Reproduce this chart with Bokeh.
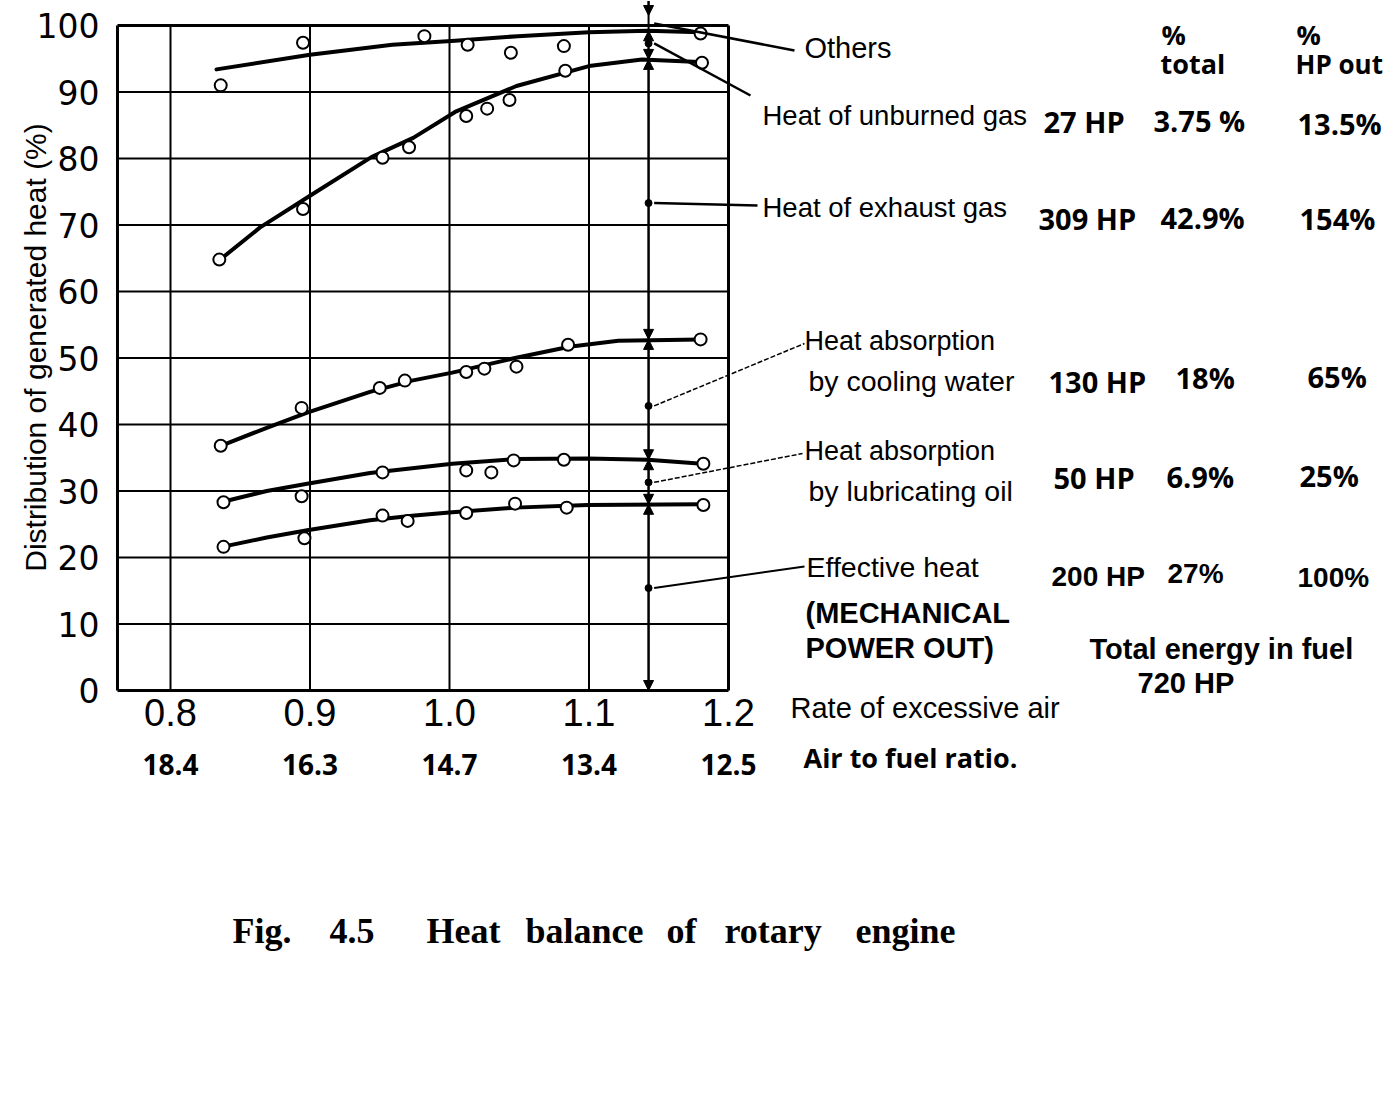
from math import pi
from bokeh.plotting import figure
from bokeh.models import Range1d, FixedTicker, PrintfTickFormatter, Label, Arrow, NormalHead
from bokeh.embed import file_html
from bokeh.resources import INLINE

# ---------------- data ----------------
x_ticks = [0.8, 0.9, 1.0, 1.1, 1.2]
afr_labels = ["18.4", "16.3", "14.7", "13.4", "12.5"]
y_ticks = [0, 10, 20, 30, 40, 50, 60, 70, 80, 90, 100]
x_box_left = 0.762

# measured points (open circles)
others_x = [0.836, 0.895, 0.982, 1.013, 1.044, 1.082, 1.180]
others_y = [91.0, 97.4, 98.4, 97.1, 95.9, 96.9, 98.8]
unburned_x = [0.835, 0.895, 0.952, 0.971, 1.012, 1.027, 1.043, 1.083, 1.181]
unburned_y = [64.8, 72.4, 80.1, 81.7, 86.4, 87.5, 88.8, 93.2, 94.4]
cooling_x = [0.836, 0.894, 0.950, 0.968, 1.012, 1.025, 1.048, 1.085, 1.180]
cooling_y = [36.8, 42.5, 45.5, 46.6, 47.9, 48.4, 48.7, 52.0, 52.8]
lub_x = [0.838, 0.894, 0.952, 1.012, 1.030, 1.046, 1.082, 1.182]
lub_y = [28.3, 29.2, 32.8, 33.1, 32.8, 34.6, 34.7, 34.1]
eff_x = [0.838, 0.896, 0.952, 0.970, 1.012, 1.047, 1.084, 1.182]
eff_y = [21.6, 22.9, 26.3, 25.5, 26.7, 28.1, 27.5, 27.9]

# fitted curves
others_cx = [0.833, 0.900, 0.959, 1.004, 1.049, 1.100, 1.142, 1.180]
others_cy = [93.4, 95.6, 97.1, 97.7, 98.4, 99.0, 99.2, 99.0]
unburned_cx = [0.835, 0.864, 0.900, 0.944, 0.974, 1.004, 1.048, 1.100, 1.138, 1.179]
unburned_cy = [64.7, 69.6, 74.4, 80.2, 83.1, 87.0, 90.9, 93.9, 94.9, 94.5]
cooling_cx = [0.836, 0.869, 0.898, 0.943, 0.973, 1.002, 1.047, 1.086, 1.121, 1.180]
cooling_cy = [36.8, 39.5, 41.8, 44.9, 46.6, 47.8, 50.0, 51.7, 52.6, 52.8]
lub_cx = [0.836, 0.869, 0.898, 0.943, 1.002, 1.047, 1.099, 1.142, 1.181]
lub_cy = [28.3, 30.0, 31.1, 32.7, 34.1, 34.8, 34.9, 34.7, 34.1]
eff_cx = [0.837, 0.869, 0.898, 0.943, 0.975, 1.002, 1.047, 1.099, 1.181]
eff_cy = [21.6, 23.0, 24.1, 25.6, 26.3, 26.8, 27.5, 27.9, 28.0]

# heat-balance measurement at one air rate
meas_x = 1.1427
section_bounds = [0.0, 28.0, 34.7, 52.8, 94.9, 99.2]
section_dots = [15.4, 31.3, 42.8, 73.3, 97.3]
others_dot = 100.3
line_top = 103.7

# ---------------- layout helpers (reference pixel -> data) ----------------
PX_PER_X = 1395.0      # pixels per unit of x
PX_PER_Y = 6.65        # pixels per unit of y
PX_X08, PX_Y0 = 170, 690
W, H = 1384, 1084


def dx(px):
    return 0.8 + (px - PX_X08) / PX_PER_X


def dy(py):
    return (PX_Y0 - py) / PX_PER_Y


p = figure(width=W, height=H, x_range=Range1d(dx(0), dx(W)), y_range=Range1d(dy(H), dy(0)),
           output_backend="svg", toolbar_location=None,
           min_border_left=0, min_border_top=0, min_border_right=0, min_border_bottom=0)
p.background_fill_color = "white"
p.border_fill_color = "white"
p.outline_line_color = None
p.grid.visible = False

# axes fixed at the chart box edges
p.xaxis.fixed_location = 0
p.yaxis.fixed_location = x_box_left
p.xaxis.ticker = FixedTicker(ticks=x_ticks)
p.xaxis.formatter = PrintfTickFormatter(format="%.1f")
p.yaxis.ticker = FixedTicker(ticks=y_ticks)
for ax in (p.xaxis, p.yaxis):
    ax.axis_line_color = None
    ax.major_tick_line_color = None
    ax.minor_tick_line_color = None
    ax.major_label_text_color = "black"
p.xaxis.major_label_text_font = "Liberation Sans"
p.xaxis.major_label_text_font_size = "38px"
p.xaxis.major_label_standoff = 2
p.yaxis.major_label_text_font = "DejaVu Sans"
p.yaxis.major_label_text_font_size = "33px"
p.yaxis.major_label_standoff = 12

# chart box and grid
v_x = [x_box_left] + x_ticks
v_w = [3, 2, 2, 2, 2, 3]
p.segment(x0=v_x, y0=[0] * len(v_x), x1=v_x, y1=[100] * len(v_x),
          line_color="black", line_width=v_w)
h_w = [3 if (t == 0 or t == 100) else 2 for t in y_ticks]
p.segment(x0=[x_box_left] * len(y_ticks), y0=y_ticks, x1=[x_ticks[-1]] * len(y_ticks), y1=y_ticks,
          line_color="black", line_width=h_w)

# curves
for cx, cy in [(others_cx, others_cy), (unburned_cx, unburned_cy), (cooling_cx, cooling_cy),
               (lub_cx, lub_cy), (eff_cx, eff_cy)]:
    p.line(cx, cy, line_color="black", line_width=4, line_join="round", line_cap="round")

# measurement vertical line with dimension arrows
p.segment(x0=[meas_x], y0=[0], x1=[meas_x], y1=[line_top], line_color="black", line_width=2)
p.add_layout(Arrow(start=None, end=NormalHead(size=10, fill_color="black", line_color="black"),
                   x_start=meas_x, y_start=line_top, x_end=meas_x, y_end=others_dot + 1.2,
                   line_width=2, line_color="black"))
for i, d in enumerate(section_dots):
    lo, hi = section_bounds[i], section_bounds[i + 1]
    for tgt in (lo, hi):
        p.add_layout(Arrow(start=None,
                           end=NormalHead(size=10, fill_color="black", line_color="black", line_width=1),
                           x_start=meas_x, y_start=d, x_end=meas_x, y_end=tgt,
                           line_width=2, line_color="black"))
p.scatter([meas_x] * len(section_dots), section_dots, size=7, color="black")

# measured points
for xs, ys in [(others_x, others_y), (unburned_x, unburned_y), (cooling_x, cooling_y),
               (lub_x, lub_y), (eff_x, eff_y)]:
    p.scatter(xs, ys, marker="circle", size=12, fill_color="white",
              line_color="black", line_width=2)

# leader lines: (start y on the measurement line, end position in px, dash, width)
leaders = [
    (others_dot, 794, 50, None, 2.5),
    (section_dots[4], 750, 95, None, 2.5),
    (section_dots[3], 757, 205, None, 2.5),
    (section_dots[2], 804, 343, "5 2", 1.5),
    (section_dots[1], 802, 453, "5 2", 1.5),
    (section_dots[0], 804, 566, None, 2),
]
for y0, ex, ey, dash, lw in leaders:
    kw = dict(line_dash=dash) if dash else {}
    p.segment(x0=[meas_x + 0.004], y0=[y0], x1=[dx(ex)], y1=[dy(ey)],
              line_width=lw, line_color="black", **kw)

LS = "Liberation Sans"
OS = "Open Sans"


def lab(text, px, py, font=LS, size="28px", style="normal", align="left",
        baseline="middle", angle=0.0):
    p.add_layout(Label(x=dx(px), y=dy(py), text=text, text_font=font, text_font_size=size,
                       text_font_style=style, text_align=align, text_baseline=baseline,
                       text_color="black", angle=angle))


# series labels (y = vertical centre of the capitals, reference pixels)
lab("Others", 804, 47, size="29px")
lab("Heat of unburned gas", 762, 115, size="27.5px")
lab("Heat of exhaust gas", 762, 207, size="27.5px")
lab("Heat absorption", 804, 340, size="27px")
lab("by cooling water", 808, 380, size="28.5px")
lab("Heat absorption", 804, 450, size="27px")
lab("by lubricating oil", 808, 490, size="28.5px")
lab("Effective heat", 806, 566, size="28.5px")
lab("(MECHANICAL", 805, 612, size="29px", style="bold")
lab("POWER  OUT)", 805, 647, size="29px", style="bold")

# axis titles
lab("Distribution of generated heat (%)", 35, 347, size="30px", align="center", angle=pi / 2)
lab("Rate of excessive air", 790, 707, size="29px")
lab("Air to fuel ratio.", 803, 757, font=OS, size="27px", style="bold")
for xt, t in zip(x_ticks, afr_labels):
    p.add_layout(Label(x=xt, y=dy(764), text=t, text_font=OS, text_font_size="28px",
                       text_font_style="bold", text_align="center", text_baseline="middle",
                       text_color="black"))

# table
lab("%", 1161, 34, font=OS, size="27px", style="bold")
lab("total", 1160, 63, font=OS, size="27px", style="bold")
lab("%", 1296, 34, font=OS, size="27px", style="bold")
lab("HP out", 1295, 63, font=OS, size="26px", style="bold")

rows = [
    ("27 HP", 1043, 121, "3.75 %", 1153, 120, "13.5%", 1297, 123),
    ("309 HP", 1038, 218, "42.9%", 1160, 217, "154%", 1299, 218),
    ("130 HP", 1048, 381, "18%", 1175, 377, "65%", 1307, 376),
    ("50 HP", 1053, 477, "6.9%", 1166, 476, "25%", 1299, 475),
]
for a, ax_, ay, b, bx, by, c, cx_, cy_ in rows:
    lab(a, ax_, ay, font=OS, size="29px", style="bold")
    lab(b, bx, by, font=OS, size="29px", style="bold")
    lab(c, cx_, cy_, font=OS, size="29px", style="bold")

lab("200 HP", 1051, 576, size="28px", style="bold")
lab("27%", 1167, 573, size="28px", style="bold")
lab("100%", 1297, 577, size="28px", style="bold")
lab("Total energy in fuel", 1089, 648, size="29px", style="bold")
lab("720 HP", 1137, 682, size="29px", style="bold")

# caption
caption_words = ["Fig.", "4.5", "Heat", "balance", "of", "rotary", "engine"]
caption_x = [232, 329, 426, 525, 666, 724, 855]
for wtxt, wx in zip(caption_words, caption_x):
    lab(wtxt, wx, 930, font="Liberation Serif", size="36px", style="bold")

open("out.html", "w").write(file_html(p, INLINE, "Heat balance of rotary engine"))
